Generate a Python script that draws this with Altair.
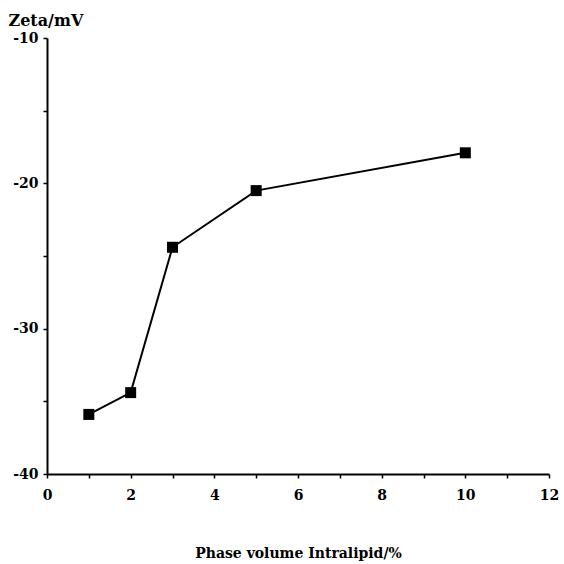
import altair as alt
import pandas as pd

phase_volume = [1, 2, 3, 5, 10]
zeta = [-35.9, -34.4, -24.4, -20.5, -17.9]

x_ticks = [0, 1, 2, 3, 4, 5, 6, 7, 8, 9, 10, 11, 12]
y_ticks = [-40, -35, -30, -25, -20, -15, -10]

df = pd.DataFrame({"x": phase_volume, "y": zeta})

FONT = "DejaVu Serif"

xenc = alt.X(
    "x:Q",
    scale=alt.Scale(domain=[0, 12], nice=False, zero=False),
    axis=alt.Axis(
        values=x_ticks,
        labelExpr="datum.value % 2 == 0 ? '' + datum.value : ''",
        labelFlush=False,
        title="Phase volume Intralipid/%",
        titleFont=FONT, titleFontSize=14, titleFontWeight="bold",
        titleColor="black", titleY=79, titleBaseline="middle",
        labelFont=FONT, labelFontSize=14, labelFontWeight="bold",
        labelColor="black", labelPadding=10,
        grid=False, domainColor="black", domainWidth=2,
        tickColor="black", tickSize=4, tickWidth=1.5,
    ),
)
yenc = alt.Y(
    "y:Q",
    scale=alt.Scale(domain=[-40, -10], nice=False, zero=False),
    axis=alt.Axis(
        values=y_ticks,
        labelExpr="datum.value % 10 == 0 ? '' + datum.value : ''",
        labelFlush=False,
        title="Zeta/mV",
        titleFont=FONT, titleFontSize=16, titleFontWeight="bold",
        titleColor="black", titleAngle=0, titleAlign="left",
        titleBaseline="alphabetic", titleX=-39, titleY=-13,
        labelFont=FONT, labelFontSize=14, labelFontWeight="bold",
        labelColor="black", labelPadding=5,
        grid=False, domainColor="black", domainWidth=2,
        tickColor="black", tickSize=4, tickWidth=1.5,
    ),
)

base = alt.Chart(df).encode(x=xenc, y=yenc)
line = base.mark_line(color="black", strokeWidth=2)
pts = base.mark_point(shape="square", filled=True, color="black", size=121, opacity=1)

chart = (
    (line + pts)
    .properties(
        width=502,
        height=436,
        autosize=alt.AutoSizeParams(type="none"),
        padding={"left": 47, "top": 38, "right": 15, "bottom": 90},
        background="white",
    )
    .configure_view(stroke=None)
)

chart.save("out.html", embed_options={"renderer": "svg", "actions": False})
